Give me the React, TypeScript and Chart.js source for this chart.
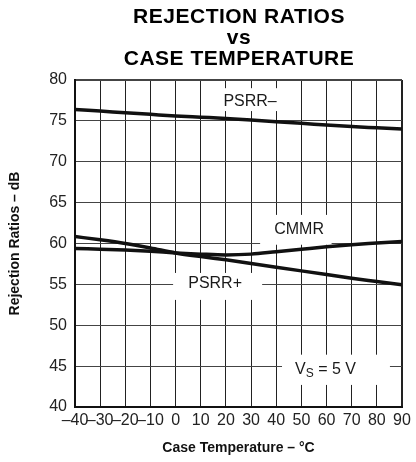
import React, { useEffect, useRef } from 'react';
import { Chart, registerables } from 'chart.js';

Chart.register(...registerables);

const temperatures = [-40, -30, -20, -10, 0, 10, 20, 30, 40, 50, 60, 70, 80, 90];
const psrrMinus = [76.4, 76.2, 76.0, 75.8, 75.6, 75.45, 75.3, 75.1, 74.9, 74.7, 74.5, 74.3, 74.15, 74.0];
const cmmr = [59.4, 59.3, 59.2, 59.05, 58.85, 58.7, 58.6, 58.7, 59.0, 59.3, 59.6, 59.85, 60.05, 60.25];
const psrrPlus = [60.85, 60.45, 60.0, 59.45, 58.85, 58.4, 58.0, 57.55, 57.1, 56.65, 56.2, 55.75, 55.35, 54.95];
const titleLines = ['REJECTION RATIOS', 'vs', 'CASE TEMPERATURE'];
const xAxisTitle = 'Case Temperature \u2013 \u00B0C';
const yAxisTitle = 'Rejection Ratios \u2013 dB';

const FONT = "'Liberation Sans', Arial, Helvetica, sans-serif";

type Note = { text: string; sub?: string; rest?: string; x: number; y: number; box: [number, number, number, number] };
const notes: Note[] = [
  { text: 'PSRR\u2013', x: 29.6, y: 77.4, box: [15, 79.0, 41, 76.2] },
  { text: 'CMMR', x: 49.1, y: 61.65, box: [33.6, 63.5, 62, 59.85] },
  { text: 'PSRR+', x: 15.7, y: 55.05, box: [-1, 56.4, 34.4, 53.1] },
  { text: 'V', sub: 'S', rest: ' = 5 V', x: 59.6, y: 44.55, box: [42.3, 46.4, 85.2, 42.7] },
];

const titleBaselines = [22.7, 43.5, 65];

const notesPlugin = {
  id: 'notes',
  beforeDatasetsDraw(chart: any) {
    const { ctx, scales } = chart;
    const xs = scales.x, ys = scales.y;
    ctx.save();
    ctx.fillStyle = '#ffffff';
    for (const n of notes) {
      const x1 = xs.getPixelForValue(n.box[0]);
      const y1 = ys.getPixelForValue(n.box[1]);
      const x2 = xs.getPixelForValue(n.box[2]);
      const y2 = ys.getPixelForValue(n.box[3]);
      ctx.fillRect(x1, y1, x2 - x1, y2 - y1);
    }
    ctx.restore();
  },
  afterDatasetsDraw(chart: any) {
    const { ctx, scales, chartArea } = chart;
    const xs = scales.x, ys = scales.y;
    ctx.save();
    ctx.fillStyle = '#1a1a1a';
    ctx.textBaseline = 'middle';
    for (const n of notes) {
      const cx = xs.getPixelForValue(n.x);
      const cy = ys.getPixelForValue(n.y);
      if (!n.sub) {
        ctx.font = `16px ${FONT}`;
        ctx.textAlign = 'center';
        ctx.fillText(n.text, cx, cy);
      } else {
        ctx.font = `16px ${FONT}`;
        const w1 = ctx.measureText(n.text).width;
        const w3 = ctx.measureText(n.rest || '').width;
        ctx.font = `12px ${FONT}`;
        const w2 = ctx.measureText(n.sub).width;
        let sx = cx - (w1 + w2 + w3) / 2;
        ctx.textAlign = 'left';
        ctx.font = `16px ${FONT}`;
        ctx.fillText(n.text, sx, cy);
        sx += w1;
        ctx.font = `12px ${FONT}`;
        ctx.fillText(n.sub, sx, cy + 4);
        sx += w2;
        ctx.font = `16px ${FONT}`;
        ctx.fillText(n.rest || '', sx, cy);
      }
    }
    // chart title, centred over the plot area
    ctx.fillStyle = '#000000';
    ctx.textAlign = 'center';
    ctx.textBaseline = 'alphabetic';
    ctx.font = `bold 21px ${FONT}`;
    try { (ctx as any).letterSpacing = '0.5px'; } catch (e) { /* ignore */ }
    const cxT = (chartArea.left + chartArea.right) / 2 + 0.5;
    titleLines.forEach((line, i) => ctx.fillText(line, cxT, titleBaselines[i]));
    try { (ctx as any).letterSpacing = '0px'; } catch (e) { /* ignore */ }
    ctx.restore();
  },
};

const toPoints = (vals: number[]) => temperatures.map((t, i) => ({ x: t, y: vals[i] }));

export default function App() {
  const ref = useRef<HTMLCanvasElement | null>(null);

  useEffect(() => {
    if (!ref.current) return;
    const lineStyle = {
      borderColor: '#111111',
      borderWidth: 3.5,
      pointRadius: 0,
      fill: false,
      cubicInterpolationMode: 'monotone' as const,
    };
    const chart = new Chart(ref.current, {
      type: 'line',
      data: {
        datasets: [
          { label: 'PSRR\u2013', data: toPoints(psrrMinus), ...lineStyle },
          { label: 'CMMR', data: toPoints(cmmr), ...lineStyle },
          { label: 'PSRR+', data: toPoints(psrrPlus), ...lineStyle },
        ],
      },
      options: {
        responsive: false,
        animation: false,
        layout: { padding: { left: 0, right: 14, top: 80, bottom: 0 } },
        plugins: {
          legend: { display: false },
          tooltip: { enabled: false },
          title: { display: false },
        },
        scales: {
          x: {
            type: 'linear',
            min: -40,
            max: 90,
            afterFit: (s: any) => { s.height = 55; },
            ticks: {
              stepSize: 10,
              autoSkip: false,
              maxRotation: 0,
              minRotation: 0,
              maxTicksLimit: 100,
              padding: 4,
              color: '#222222',
              font: { family: FONT, size: 16 },
              callback: (v: any) => (Number(v) < 0 ? '\u2013' + Math.abs(Number(v)) : String(v)),
            },
            grid: {
              color: '#222222',
              lineWidth: (c: any) => (c.tick && (c.tick.value === -40 || c.tick.value === 90) ? 2 : 1),
              drawTicks: false,
            },
            border: { display: true, color: '#111111', width: 2 },
            title: {
              display: true,
              text: xAxisTitle,
              color: '#111111',
              font: { family: FONT, size: 14, weight: 'bold', lineHeight: 1.2 },
              padding: { top: 0, bottom: 5.6 },
            },
          },
          y: {
            type: 'linear',
            min: 40,
            max: 80,
            afterFit: (s: any) => { s.width = 75; },
            ticks: {
              stepSize: 5,
              maxTicksLimit: 100,
              padding: 8,
              color: '#222222',
              font: { family: FONT, size: 16 },
            },
            grid: {
              color: '#444444',
              lineWidth: (c: any) => (c.tick && (c.tick.value === 40 || c.tick.value === 80) ? 2 : 1),
              drawTicks: false,
            },
            border: { display: true, color: '#111111', width: 2 },
            title: {
              display: true,
              text: yAxisTitle,
              color: '#111111',
              font: { family: FONT, size: 14, weight: 'bold', lineHeight: 1.2 },
              padding: { top: 6.6, bottom: 0 },
            },
          },
        },
      },
      plugins: [notesPlugin],
    });
    return () => chart.destroy();
  }, []);

  return (
    <div style={{ position: 'absolute', left: 0, top: 0, width: 416, height: 462, background: '#ffffff' }}>
      <canvas ref={ref} width={416} height={462} style={{ display: 'block', width: 416, height: 462 }} />
    </div>
  );
}
